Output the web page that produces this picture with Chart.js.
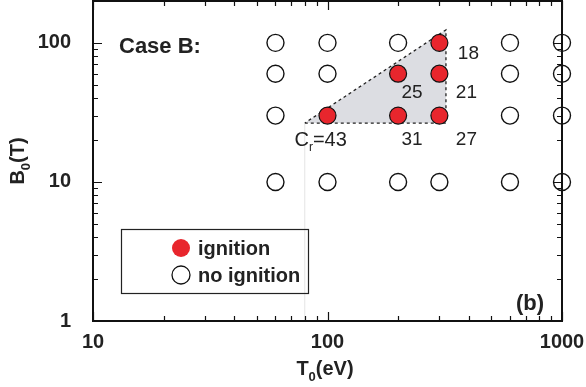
<!DOCTYPE html>
<html>
<head>
<meta charset="utf-8">
<script src="https://cdn.jsdelivr.net/npm/chart.js@4.4.1/dist/chart.umd.min.js"></script>
<style>
  html, body { margin: 0; padding: 0; background: #fff; }
  #wrap { width: 586px; height: 387px; }
</style>
</head>
<body>
<div id="wrap"><canvas id="chart" width="586" height="387"></canvas></div>
<script>
// T0 (eV) / B0 (T) grid of runs
const igniteT = [100, 200, 300, 200, 300, 300];
const igniteB = [30, 30, 30, 60, 60, 100];
const igniteCr = ['Cr=43', '31', '27', '25', '21', '18'];

const noIgniteT = [60, 60, 60, 60, 100, 100, 100, 200, 200, 300, 600, 600, 600, 600, 1000, 1000, 1000, 1000];
const noIgniteB = [100, 60, 30, 10, 100, 60, 10, 100, 10, 10, 100, 60, 30, 10, 100, 60, 30, 10];

// ignition region (triangle) and its foot line
const regionT = [80, 320, 320, 80];
const regionB = [26.5, 26.5, 124, 26.5];
const footT = [80, 80];
const footB = [1, 26.5];

const xTicks = [10, 20, 30, 40, 50, 60, 70, 80, 90, 100, 200, 300, 400, 500, 600, 700, 800, 900, 1000];
const yTicks = [1, 2, 3, 4, 5, 6, 7, 8, 9, 10, 20, 30, 40, 50, 60, 70, 80, 90, 100, 200];
const xLabels = [10, 100, 1000];
const yLabels = [1, 10, 100];

const RED = '#e8262d';
const FONT = '"Liberation Sans", Arial, Helvetica, sans-serif';

const toPts = (xs, ys) => xs.map((x, i) => ({ x: x, y: ys[i] }));

// label offsets (px) from their points, same order as igniteCr
const crOffsets = [[-13, 25], [14, 24], [27, 24], [14, 19], [27, 19], [29, 11]];

const decorPlugin = {
  id: 'decor',
  afterDraw(chart) {
    const ctx = chart.ctx;
    const a = chart.chartArea;
    const xs = chart.scales.x;
    const ys = chart.scales.y;
    ctx.save();

    // frame
    ctx.strokeStyle = '#111';
    ctx.lineWidth = 2;
    ctx.strokeRect(a.left, a.top, a.right - a.left, a.bottom - a.top);

    // inward ticks on all sides
    ctx.lineWidth = 1.2;
    ctx.beginPath();
    xTicks.forEach(v => {
      const px = Math.round(xs.getPixelForValue(v)) + 0.5;
      const len = xLabels.includes(v) ? 9 : 5;
      ctx.moveTo(px, a.bottom); ctx.lineTo(px, a.bottom - len);
      ctx.moveTo(px, a.top); ctx.lineTo(px, a.top + len);
    });
    yTicks.forEach(v => {
      const py = Math.round(ys.getPixelForValue(v)) + 0.5;
      const len = yLabels.includes(v) ? 9 : 5;
      ctx.moveTo(a.left, py); ctx.lineTo(a.left + len, py);
      ctx.moveTo(a.right, py); ctx.lineTo(a.right - len, py);
    });
    ctx.stroke();

    ctx.fillStyle = '#222';
    ctx.textBaseline = 'alphabetic';

    // axis titles with subscript
    const drawSub = (main, sub, rest, x, y) => {
      ctx.font = 'bold 20px ' + FONT;
      const w1 = ctx.measureText(main).width;
      const w3 = ctx.measureText(rest).width;
      ctx.font = 'bold 13px ' + FONT;
      const w2 = ctx.measureText(sub).width;
      let cx = x - (w1 + w2 + w3) / 2;
      ctx.font = 'bold 20px ' + FONT;
      ctx.fillText(main, cx, y);
      cx += w1;
      ctx.font = 'bold 13px ' + FONT;
      ctx.fillText(sub, cx, y + 6);
      cx += w2;
      ctx.font = 'bold 20px ' + FONT;
      ctx.fillText(rest, cx, y);
    };
    ctx.textAlign = 'left';
    drawSub('T', '0', '(eV)', 325, 375);

    ctx.save();
    ctx.translate(24, 161);
    ctx.rotate(-Math.PI / 2);
    drawSub('B', '0', '(T)', 0, 0);
    ctx.restore();

    // panel texts
    ctx.font = 'bold 22px ' + FONT;
    ctx.fillText('Case B:', 119, 53);
    ctx.fillText('(b)', 516, 310);

    // Cr labels beside the ignition points
    ctx.font = '19px ' + FONT;
    ctx.textAlign = 'center';
    ctx.textBaseline = 'middle';
    igniteCr.forEach((t, i) => {
      const px = xs.getPixelForValue(igniteT[i]) + crOffsets[i][0];
      const py = ys.getPixelForValue(igniteB[i]) + crOffsets[i][1];
      if (t.startsWith('Cr')) {
        ctx.textAlign = 'left';
        ctx.font = '20px ' + FONT;
        let cx = px - 20;
        ctx.fillText('C', cx, py);
        cx += ctx.measureText('C').width;
        ctx.font = '12px ' + FONT;
        ctx.fillText('r', cx, py + 7);
        cx += ctx.measureText('r').width;
        ctx.font = '20px ' + FONT;
        ctx.fillText(t.slice(2), cx, py);
        ctx.font = '19px ' + FONT;
        ctx.textAlign = 'center';
      } else {
        ctx.fillText(t, px, py);
      }
    });

    // legend box
    ctx.strokeStyle = '#222';
    ctx.lineWidth = 1.2;
    ctx.strokeRect(121.5, 229.5, 187, 64);
    ctx.lineWidth = 1.3;
    ctx.beginPath();
    ctx.arc(181, 248, 9, 0, Math.PI * 2);
    ctx.fillStyle = RED;
    ctx.fill();
    ctx.beginPath();
    ctx.arc(181, 275, 9, 0, Math.PI * 2);
    ctx.fillStyle = '#fff';
    ctx.fill();
    ctx.strokeStyle = '#111';
    ctx.stroke();
    ctx.fillStyle = '#222';
    ctx.textAlign = 'left';
    ctx.font = 'bold 20px ' + FONT;
    ctx.fillText('ignition', 198, 249);
    ctx.fillText('no ignition', 198, 276);

    ctx.restore();
  }
};

new Chart(document.getElementById('chart'), {
  type: 'scatter',
  data: {
    datasets: [
      {
        label: 'foot',
        data: toPts(footT, footB),
        showLine: true,
        borderColor: '#e4e4e4',
        borderWidth: 1,
        pointRadius: 0,
        order: 4
      },
      {
        label: 'region',
        data: toPts(regionT, regionB),
        showLine: true,
        fill: 'shape',
        backgroundColor: '#dcdde2',
        borderColor: '#222',
        borderWidth: 1.3,
        borderDash: [3, 3],
        pointRadius: 0,
        order: 3
      },
      {
        label: 'no ignition',
        data: toPts(noIgniteT, noIgniteB),
        pointRadius: 8.5,
        pointBackgroundColor: 'rgba(255,255,255,0)',
        pointBorderColor: '#111',
        pointBorderWidth: 1.4,
        clip: false,
        order: 2
      },
      {
        label: 'ignition',
        data: toPts(igniteT, igniteB),
        pointRadius: 8.5,
        pointBackgroundColor: RED,
        pointBorderColor: '#111',
        pointBorderWidth: 1.2,
        clip: false,
        order: 1
      }
    ]
  },
  options: {
    responsive: false,
    animation: false,
    devicePixelRatio: 1,
    layout: { autoPadding: false, padding: { top: 1, right: 24, left: 0, bottom: 0 } },
    plugins: { legend: { display: false }, tooltip: { enabled: false } },
    scales: {
      x: {
        type: 'logarithmic',
        min: 10,
        max: 1000,
        grid: { display: false },
        border: { display: false },
        afterBuildTicks: s => { s.ticks = xTicks.map(v => ({ value: v })); },
        afterFit: s => { s.height = 66; s.paddingLeft = 0; s.paddingRight = 0; },
        ticks: {
          autoSkip: false,
          maxRotation: 0,
          padding: 1,
          color: '#222',
          font: { family: FONT, size: 20, weight: 'bold' },
          callback: v => xLabels.includes(v) ? String(v) : ''
        }
      },
      y: {
        type: 'logarithmic',
        min: 1,
        max: 200,
        grid: { display: false },
        border: { display: false },
        afterBuildTicks: s => { s.ticks = yTicks.map(v => ({ value: v })); },
        afterFit: s => { s.width = 93; s.paddingTop = 0; s.paddingBottom = 0; },
        ticks: {
          autoSkip: false,
          padding: 14,
          color: '#222',
          font: { family: FONT, size: 20, weight: 'bold' },
          callback: v => yLabels.includes(v) ? String(v) : ''
        }
      }
    }
  },
  plugins: [decorPlugin]
});
</script>
</body>
</html>
